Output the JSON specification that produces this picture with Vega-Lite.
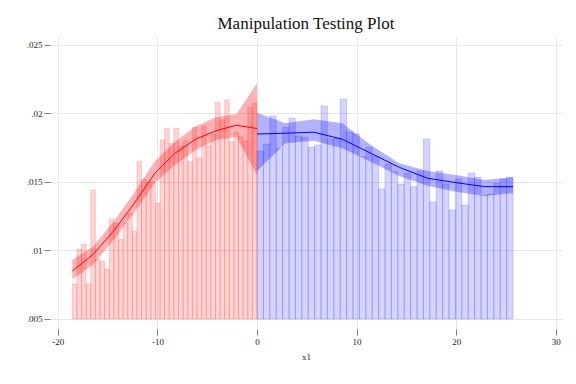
{
  "$schema": "https://vega.github.io/schema/vega-lite/v6.json",
  "width": 512,
  "height": 292,
  "autosize": "none",
  "padding": {"left": 50, "top": 37, "right": 14, "bottom": 55},
  "background": "white",
  "title": {"text": "Manipulation Testing Plot", "font": "Liberation Serif", "fontSize": 17, "fontWeight": "normal", "color": "#111111", "anchor": "middle", "frame": "group", "offset": 4},
  "config": {
    "font": "Liberation Serif",
    "view": {"stroke": null},
    "style": {"guide-label": {"font": "Liberation Serif", "fontSize": 9, "fill": "#222222"}, "guide-title": {"font": "Liberation Serif", "fontSize": 9, "fontWeight": "normal", "fill": "#222222"}},
    "axis": {"domain": false, "grid": true, "gridColor": "#e6e6e6", "gridWidth": 1, "tickColor": "#7f7f7f", "tickSize": 6, "labelFont": "Liberation Serif", "labelFontSize": 9, "labelColor": "#222222", "labelPadding": 2, "titleFont": "Liberation Serif", "titleFontSize": 9, "titleFontWeight": "normal", "titleColor": "#222222", "titlePadding": 6, "labelFlush": false, "labelOverlap": false}
  },
  "datasets": {
    "hist": [
      {"x": -18.540, "xe": -18.077, "d": 0.00755, "side": "left"},
      {"x": -18.077, "xe": -17.613, "d": 0.0101, "side": "left"},
      {"x": -17.613, "xe": -17.150, "d": 0.01047, "side": "left"},
      {"x": -17.150, "xe": -16.686, "d": 0.00755, "side": "left"},
      {"x": -16.686, "xe": -16.223, "d": 0.01442, "side": "left"},
      {"x": -16.223, "xe": -15.759, "d": 0.00937, "side": "left"},
      {"x": -15.759, "xe": -15.296, "d": 0.00922, "side": "left"},
      {"x": -15.296, "xe": -14.832, "d": 0.00865, "side": "left"},
      {"x": -14.832, "xe": -14.369, "d": 0.0123, "side": "left"},
      {"x": -14.369, "xe": -13.905, "d": 0.0120, "side": "left"},
      {"x": -13.905, "xe": -13.442, "d": 0.0108, "side": "left"},
      {"x": -13.442, "xe": -12.978, "d": 0.0120, "side": "left"},
      {"x": -12.978, "xe": -12.515, "d": 0.0127, "side": "left"},
      {"x": -12.515, "xe": -12.051, "d": 0.0114, "side": "left"},
      {"x": -12.051, "xe": -11.588, "d": 0.01648, "side": "left"},
      {"x": -11.588, "xe": -11.124, "d": 0.0152, "side": "left"},
      {"x": -11.124, "xe": -10.661, "d": 0.0150, "side": "left"},
      {"x": -10.661, "xe": -10.197, "d": 0.0150, "side": "left"},
      {"x": -10.197, "xe": -9.734, "d": 0.01347, "side": "left"},
      {"x": -9.734, "xe": -9.270, "d": 0.01807, "side": "left"},
      {"x": -9.270, "xe": -8.807, "d": 0.01892, "side": "left"},
      {"x": -8.807, "xe": -8.343, "d": 0.0178, "side": "left"},
      {"x": -8.343, "xe": -7.880, "d": 0.01892, "side": "left"},
      {"x": -7.880, "xe": -7.416, "d": 0.0176, "side": "left"},
      {"x": -7.416, "xe": -6.953, "d": 0.0180, "side": "left"},
      {"x": -6.953, "xe": -6.489, "d": 0.01648, "side": "left"},
      {"x": -6.489, "xe": -6.026, "d": 0.01899, "side": "left"},
      {"x": -6.026, "xe": -5.562, "d": 0.01673, "side": "left"},
      {"x": -5.562, "xe": -5.099, "d": 0.01909, "side": "left"},
      {"x": -5.099, "xe": -4.635, "d": 0.01763, "side": "left"},
      {"x": -4.635, "xe": -4.172, "d": 0.0185, "side": "left"},
      {"x": -4.172, "xe": -3.708, "d": 0.02082, "side": "left"},
      {"x": -3.708, "xe": -3.245, "d": 0.01953, "side": "left"},
      {"x": -3.245, "xe": -2.781, "d": 0.02099, "side": "left"},
      {"x": -2.781, "xe": -2.318, "d": 0.01794, "side": "left"},
      {"x": -2.318, "xe": -1.854, "d": 0.01863, "side": "left"},
      {"x": -1.854, "xe": -1.391, "d": 0.0183, "side": "left"},
      {"x": -1.391, "xe": -0.927, "d": 0.0180, "side": "left"},
      {"x": -0.927, "xe": -0.464, "d": 0.02045, "side": "left"},
      {"x": -0.464, "xe": 0.0, "d": 0.02074, "side": "left"},
      {"x": 0.000, "xe": 0.643, "d": 0.01726, "side": "right"},
      {"x": 0.643, "xe": 1.285, "d": 0.01777, "side": "right"},
      {"x": 1.285, "xe": 1.928, "d": 0.01982, "side": "right"},
      {"x": 1.928, "xe": 2.570, "d": 0.01746, "side": "right"},
      {"x": 2.570, "xe": 3.213, "d": 0.01899, "side": "right"},
      {"x": 3.213, "xe": 3.855, "d": 0.01965, "side": "right"},
      {"x": 3.855, "xe": 4.498, "d": 0.01836, "side": "right"},
      {"x": 4.498, "xe": 5.140, "d": 0.01826, "side": "right"},
      {"x": 5.140, "xe": 5.783, "d": 0.01755, "side": "right"},
      {"x": 5.783, "xe": 6.425, "d": 0.0177, "side": "right"},
      {"x": 6.425, "xe": 7.068, "d": 0.02055, "side": "right"},
      {"x": 7.068, "xe": 7.710, "d": 0.01812, "side": "right"},
      {"x": 7.710, "xe": 8.353, "d": 0.0182, "side": "right"},
      {"x": 8.353, "xe": 8.995, "d": 0.02106, "side": "right"},
      {"x": 8.995, "xe": 9.638, "d": 0.01863, "side": "right"},
      {"x": 9.638, "xe": 10.280, "d": 0.0185, "side": "right"},
      {"x": 10.280, "xe": 10.923, "d": 0.01685, "side": "right"},
      {"x": 10.923, "xe": 11.565, "d": 0.01753, "side": "right"},
      {"x": 11.565, "xe": 12.208, "d": 0.0169, "side": "right"},
      {"x": 12.208, "xe": 12.850, "d": 0.01449, "side": "right"},
      {"x": 12.850, "xe": 13.493, "d": 0.01631, "side": "right"},
      {"x": 13.493, "xe": 14.135, "d": 0.01575, "side": "right"},
      {"x": 14.135, "xe": 14.778, "d": 0.01485, "side": "right"},
      {"x": 14.778, "xe": 15.420, "d": 0.01563, "side": "right"},
      {"x": 15.420, "xe": 16.063, "d": 0.01466, "side": "right"},
      {"x": 16.063, "xe": 16.705, "d": 0.0158, "side": "right"},
      {"x": 16.705, "xe": 17.348, "d": 0.01814, "side": "right"},
      {"x": 17.348, "xe": 17.990, "d": 0.01354, "side": "right"},
      {"x": 17.990, "xe": 18.633, "d": 0.0158, "side": "right"},
      {"x": 18.633, "xe": 19.275, "d": 0.01485, "side": "right"},
      {"x": 19.275, "xe": 19.918, "d": 0.01296, "side": "right"},
      {"x": 19.918, "xe": 20.560, "d": 0.01522, "side": "right"},
      {"x": 20.560, "xe": 21.203, "d": 0.01332, "side": "right"},
      {"x": 21.203, "xe": 21.845, "d": 0.01566, "side": "right"},
      {"x": 21.845, "xe": 22.488, "d": 0.01534, "side": "right"},
      {"x": 22.488, "xe": 23.130, "d": 0.01403, "side": "right"},
      {"x": 23.130, "xe": 23.773, "d": 0.01412, "side": "right"},
      {"x": 23.773, "xe": 24.415, "d": 0.0149, "side": "right"},
      {"x": 24.415, "xe": 25.058, "d": 0.0152, "side": "right"},
      {"x": 25.058, "xe": 25.700, "d": 0.01534, "side": "right"}
    ],
    "est": [
      {"x": -18.54, "f": 0.00850, "lo": 0.0079, "hi": 0.0093, "side": "left"},
      {"x": -16.48, "f": 0.0097, "lo": 0.00894, "hi": 0.01028, "side": "left"},
      {"x": -14.42, "f": 0.0114, "lo": 0.01075, "hi": 0.0121, "side": "left"},
      {"x": -12.36, "f": 0.0134, "lo": 0.01272, "hi": 0.01418, "side": "left"},
      {"x": -10.30, "f": 0.0156, "lo": 0.0149, "hi": 0.01648, "side": "left"},
      {"x": -8.24, "f": 0.01709, "lo": 0.01624, "hi": 0.01794, "side": "left"},
      {"x": -6.18, "f": 0.01812, "lo": 0.01734, "hi": 0.01904, "side": "left"},
      {"x": -4.12, "f": 0.01874, "lo": 0.01807, "hi": 0.01972, "side": "left"},
      {"x": -2.06, "f": 0.01914, "lo": 0.0183, "hi": 0.01996, "side": "left"},
      {"x": 0.0, "f": 0.0189, "lo": 0.0155, "hi": 0.0222, "side": "left"},
      {"x": 0.0, "f": 0.0185, "lo": 0.0158, "hi": 0.02006, "side": "right"},
      {"x": 2.856, "f": 0.01856, "lo": 0.01782, "hi": 0.01928, "side": "right"},
      {"x": 5.711, "f": 0.01863, "lo": 0.0180, "hi": 0.01958, "side": "right"},
      {"x": 8.567, "f": 0.01812, "lo": 0.01746, "hi": 0.01928, "side": "right"},
      {"x": 11.422, "f": 0.0171, "lo": 0.01648, "hi": 0.0177, "side": "right"},
      {"x": 14.278, "f": 0.01607, "lo": 0.01544, "hi": 0.01637, "side": "right"},
      {"x": 17.133, "f": 0.01527, "lo": 0.01473, "hi": 0.0158, "side": "right"},
      {"x": 19.989, "f": 0.01495, "lo": 0.01429, "hi": 0.01551, "side": "right"},
      {"x": 22.844, "f": 0.01466, "lo": 0.01398, "hi": 0.01515, "side": "right"},
      {"x": 25.70, "f": 0.01466, "lo": 0.01417, "hi": 0.01534, "side": "right"}
    ]
  },
  "layer": [
    {
      "data": {"name": "hist"},
      "mark": {"type": "rect", "fillOpacity": 0.17, "strokeOpacity": 0.16, "strokeWidth": 1},
      "encoding": {
        "x": {"field": "x", "type": "quantitative", "scale": {"domain": [-20.78, 30.62], "nice": false, "zero": false}, "axis": {"values": [-20, -10, 0, 10, 20, 30], "labelExpr": "datum.value + ''", "labelFont": "Liberation Serif", "titleFont": "Liberation Serif"}, "title": "x1"},
        "x2": {"field": "xe"},
        "y": {"field": "d", "type": "quantitative", "scale": {"domain": [0.00427, 0.02558], "nice": false, "zero": false}, "axis": {"values": [0.005, 0.01, 0.015, 0.02, 0.025], "labelExpr": "substring(format(datum.value, '.3~f'), 1)", "labelFont": "Liberation Serif"}, "title": null},
        "y2": {"datum": 0.005},
        "fill": {"field": "side", "type": "nominal", "scale": {"domain": ["left", "right"], "range": ["#ff0000", "#0000ff"]}, "legend": null},
        "stroke": {"field": "side", "type": "nominal", "scale": {"domain": ["left", "right"], "range": ["#ff0000", "#0000ff"]}, "legend": null}
      }
    },
    {
      "data": {"name": "est"},
      "mark": {"type": "area", "opacity": 0.3},
      "encoding": {
        "x": {"field": "x", "type": "quantitative", "title": "x1"},
        "y": {"field": "lo", "type": "quantitative", "title": null},
        "y2": {"field": "hi"},
        "fill": {"field": "side", "type": "nominal", "scale": {"domain": ["left", "right"], "range": ["#ff0000", "#0000ff"]}, "legend": null}
      }
    },
    {
      "data": {"name": "est"},
      "mark": {"type": "line", "strokeWidth": 1},
      "encoding": {
        "x": {"field": "x", "type": "quantitative", "title": "x1"},
        "y": {"field": "f", "type": "quantitative", "title": null},
        "stroke": {"field": "side", "type": "nominal", "scale": {"domain": ["left", "right"], "range": ["#ff0000", "#0000ff"]}, "legend": null}
      }
    },
    {
      "mark": {"type": "rule", "color": "#000000", "strokeWidth": 1},
      "encoding": {"x": {"datum": 0, "type": "quantitative", "title": "x1"}}
    },
    {
      "mark": {"type": "rule", "color": "#7f7f7f", "strokeWidth": 1},
      "encoding": {
        "x": {"datum": -20.78, "type": "quantitative", "title": "x1"},
        "y": {"datum": 0.005, "type": "quantitative", "title": null},
        "y2": {"datum": 0.025}
      }
    },
    {
      "mark": {"type": "rule", "color": "#7f7f7f", "strokeWidth": 1},
      "encoding": {
        "x": {"datum": -20, "type": "quantitative", "title": "x1"},
        "x2": {"datum": 30},
        "y": {"datum": 0.00427, "type": "quantitative", "title": null}
      }
    }
  ]
}
